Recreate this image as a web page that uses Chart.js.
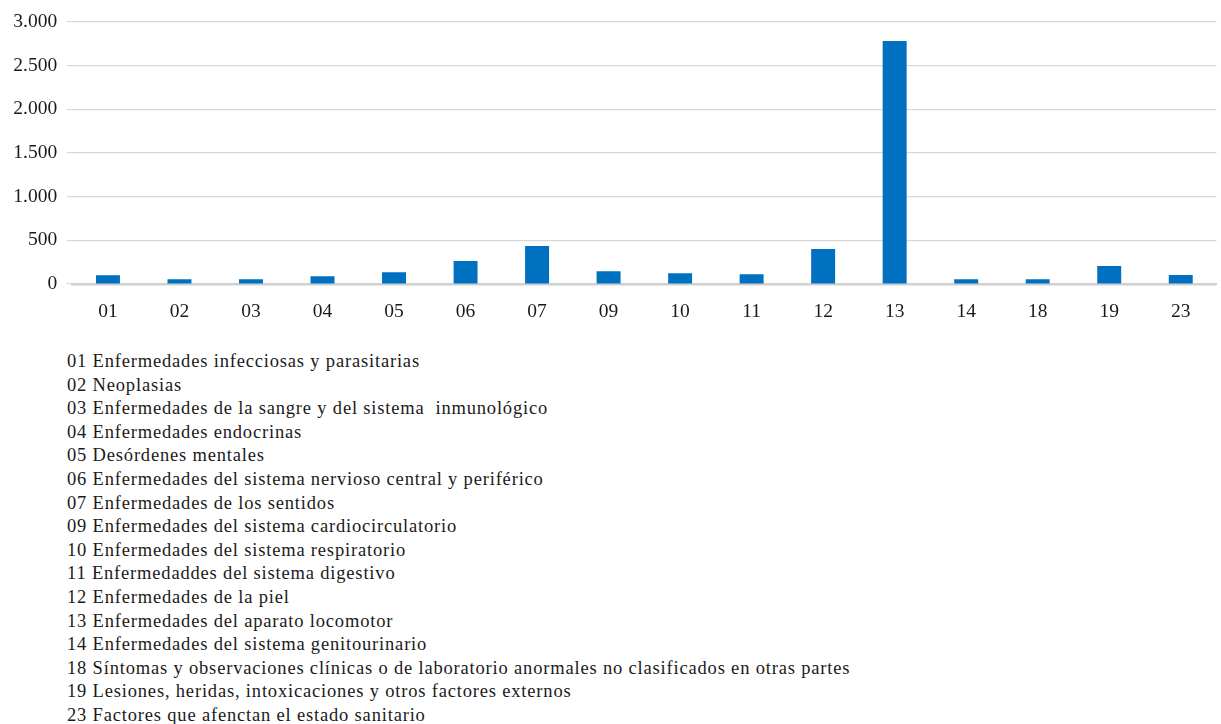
<!DOCTYPE html>
<html>
<head>
<meta charset="utf-8">
<script src="https://cdn.jsdelivr.net/npm/chart.js@4"></script>
<style>
  html, body { margin: 0; padding: 0; background: #ffffff; }
  body { width: 1221px; height: 724px; overflow: hidden; position: relative; }
  #wrap { position: absolute; left: 0; top: 0; width: 1221px; height: 330px; }
  #notes {
    position: absolute; left: 67px; top: 350px;
    font-family: "Liberation Serif", "DejaVu Serif", serif;
    font-size: 18.5px; letter-spacing: 0.82px; line-height: 23.6px; color: #1a1a1a;
    white-space: pre; margin: 0; padding: 0; list-style: none;
  }
</style>
</head>
<body>
<div id="wrap"><canvas id="c" width="1221" height="330"></canvas></div>
<ul id="notes"></ul>
<script>
const categories = ["01","02","03","04","05","06","07","09","10","11","12","13","14","18","19","23"];
const values = [100, 55, 55, 90, 135, 262, 435, 147, 123, 112, 400, 2783, 55, 55, 205, 102];
const yTicks = [0, 500, 1000, 1500, 2000, 2500, 3000];
const descriptions = [
  "01 Enfermedades infecciosas y parasitarias",
  "02 Neoplasias",
  "03 Enfermedades de la sangre y del sistema  inmunológico",
  "04 Enfermedades endocrinas",
  "05 Desórdenes mentales",
  "06 Enfermedades del sistema nervioso central y periférico",
  "07 Enfermedades de los sentidos",
  "09 Enfermedades del sistema cardiocirculatorio",
  "10 Enfermedades del sistema respiratorio",
  "11 Enfermedaddes del sistema digestivo",
  "12 Enfermedades de la piel",
  "13 Enfermedades del aparato locomotor",
  "14 Enfermedades del sistema genitourinario",
  "18 Síntomas y observaciones clínicas o de laboratorio anormales no clasificados en otras partes",
  "19 Lesiones, heridas, intoxicaciones y otros factores externos",
  "23 Factores que afenctan el estado sanitario"
];

const notes = document.getElementById('notes');
descriptions.forEach(d => { const li = document.createElement('li'); li.textContent = d; notes.appendChild(li); });

const fontFamily = '"Liberation Serif", "DejaVu Serif", serif';
function fmtThousands(v) {
  return String(v).replace(/\B(?=(\d{3})+(?!\d))/g, '.');
}

new Chart(document.getElementById('c'), {
  type: 'bar',
  data: {
    labels: categories,
    datasets: [{
      data: values,
      backgroundColor: '#0070C0',
      borderWidth: 0,
      barPercentage: 0.335,
      categoryPercentage: 1.0
    }]
  },
  options: {
    responsive: false,
    animation: false,
    devicePixelRatio: 1,
    layout: { padding: { top: 22, right: 4.5, left: 0, bottom: 0 } },
    plugins: { legend: { display: false }, tooltip: { enabled: false } },
    scales: {
      x: {
        grid: { display: false },
        border: { display: true, color: '#d0d0d0', width: 2.5 },
        ticks: { color: '#1a1a1a', font: { family: fontFamily, size: 19.5 }, padding: 8, maxRotation: 0, autoSkip: false },
        afterFit: s => { s.height = 46; }
      },
      y: {
        min: 0, max: 3000,
        afterBuildTicks: s => { s.ticks = yTicks.map(v => ({ value: v })); },
        grid: { color: '#d9d9d9', lineWidth: 1.2, drawTicks: true, tickLength: 5.5 },
        border: { display: false },
        ticks: {
          color: '#1a1a1a', font: { family: fontFamily, size: 19.5 }, padding: 9.5,
          callback: v => fmtThousands(v)
        },
        afterFit: s => { s.width = 72.2; }
      }
    }
  }
});
</script>
</body>
</html>
